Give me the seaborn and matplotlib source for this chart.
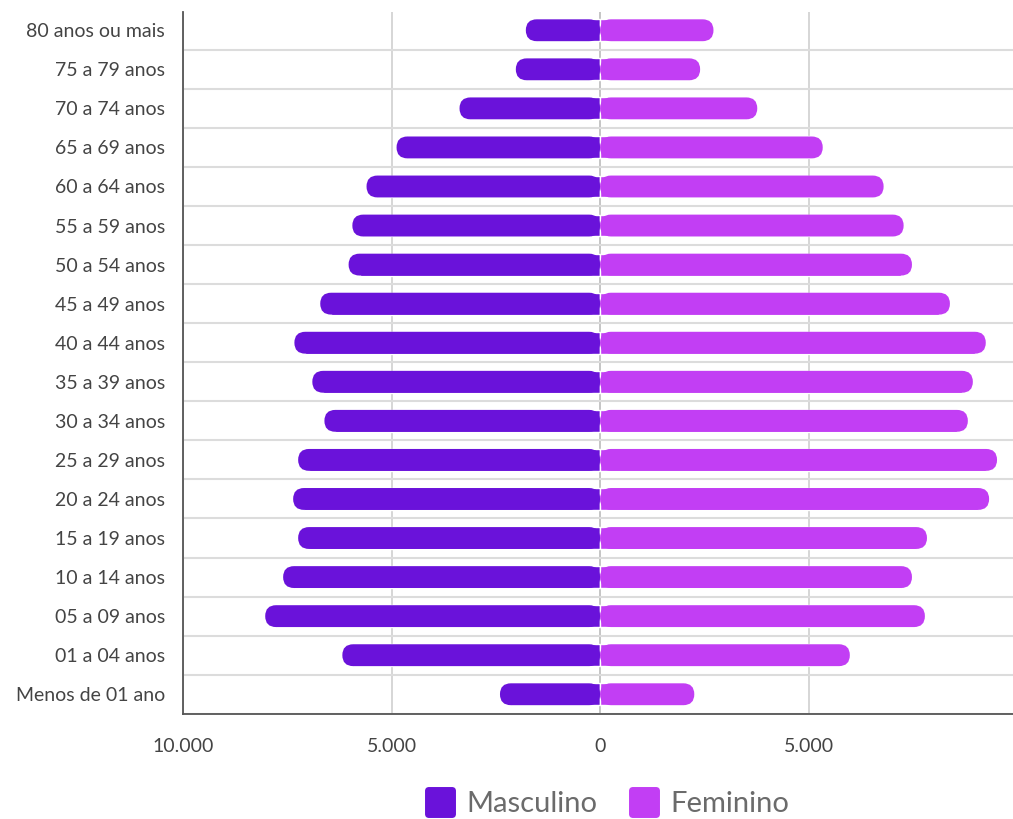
import numpy as np
import pandas as pd
import seaborn as sns
import matplotlib.pyplot as plt
from matplotlib.patches import FancyBboxPatch
from matplotlib.lines import Line2D
from matplotlib.markers import MarkerStyle
from matplotlib.ticker import FuncFormatter

faixas = ['80 anos ou mais', '75 a 79 anos', '70 a 74 anos', '65 a 69 anos',
          '60 a 64 anos', '55 a 59 anos', '50 a 54 anos', '45 a 49 anos',
          '40 a 44 anos', '35 a 39 anos', '30 a 34 anos', '25 a 29 anos',
          '20 a 24 anos', '15 a 19 anos', '10 a 14 anos', '05 a 09 anos',
          '01 a 04 anos', 'Menos de 01 ano']
masculino = [1780, 2020, 3370, 4880, 5600, 5940, 6030, 6710, 7330, 6900,
             6610, 7240, 7360, 7240, 7600, 8030, 6180, 2400]
feminino = [2720, 2400, 3770, 5340, 6800, 7280, 7480, 8390, 9250, 8940,
            8820, 9520, 9330, 7840, 7480, 7790, 5990, 2260]
xticks = [-10000, -5000, 0, 5000]

cor_m = '#6a12da'
cor_f = '#c23ef4'

# tabela longa: masculino do lado negativo
df = pd.concat([
    pd.DataFrame({'faixa': faixas, 'sexo': 'Masculino', 'valor': [-v for v in masculino]}),
    pd.DataFrame({'faixa': faixas, 'sexo': 'Feminino', 'valor': feminino}),
])

sns.set_style('white')
plt.rcParams['font.family'] = ['Lato', 'DejaVu Sans']

fig = plt.figure(figsize=(10.13, 8.19), dpi=100)
ax = fig.add_axes([0.1807, 0.128, 0.8193 + 0.004, 0.857])

sns.barplot(data=df, y='faixa', x='valor', hue='sexo', order=faixas,
            palette={'Masculino': cor_m, 'Feminino': cor_f},
            dodge=False, orient='h', width=0.56, saturation=1, ax=ax, legend=False)

ax.set_xlim(-10000, 10000)
ax.set_ylim(len(faixas) - 0.49, -0.46)

# pontas arredondadas
bbox = ax.get_window_extent()
px_x = bbox.width / 20000
px_y = bbox.height / (len(faixas) - 0.49 + 0.46)
raio_px = 0.56 * px_y / 2
r_x = raio_px / px_x
aspecto = px_x / px_y
for p in list(ax.patches):
    x0, y0, w, h = p.get_x(), p.get_y(), p.get_width(), p.get_height()
    if w == 0:
        continue
    fim = x0 + w
    nova = FancyBboxPatch((min(0, fim), y0), abs(w), h,
                          boxstyle=f'round,pad=0,rounding_size={r_x}',
                          mutation_aspect=aspecto, fc=p.get_facecolor(),
                          ec='none', zorder=p.get_zorder())
    ax.add_patch(nova)
    s = np.sign(w)
    p.set_width(w - s * r_x)

# grades
ax.set_yticks(np.arange(len(faixas)) + 0.5, minor=True)
ax.grid(which='minor', axis='y', color='#dcdcdc', lw=1.5)
ax.set_xticks(xticks)
ax.grid(which='major', axis='x', color='#cfcfcf', lw=1.2)
ax.axvline(0, color='#8a8a8a', lw=1.2, zorder=0.5)
ax.set_axisbelow(True)

ax.xaxis.set_major_formatter(FuncFormatter(lambda v, _: f'{abs(int(v)):,}'.replace(',', '.')))
ax.tick_params(axis='both', which='major', length=7, width=1.3, color='#555555',
               labelsize=14, labelcolor='#444444', pad=6)
ax.tick_params(axis='y', which='minor', length=0)
ax.tick_params(axis='x', pad=10)

for lado in ['top', 'right']:
    ax.spines[lado].set_visible(False)
for lado in ['left', 'bottom']:
    ax.spines[lado].set_color('#555555')
    ax.spines[lado].set_linewidth(1.3)

ax.set_xlabel('')
ax.set_ylabel('')

marc = MarkerStyle('s', joinstyle='round')
alcas = [Line2D([], [], ls='none', marker=marc, markersize=17, markerfacecolor=c,
                markeredgecolor=c, markeredgewidth=5) for c in (cor_m, cor_f)]
fig.legend(alcas, ['Masculino', 'Feminino'], loc='center', ncol=2,
           bbox_to_anchor=(606 / 1013, 1 - 804 / 819), frameon=False,
           fontsize=21, labelcolor='#6b6b6b', handletextpad=0.3, columnspacing=1.0,
           handlelength=1.2)

fig.savefig('out.png', dpi=100)
